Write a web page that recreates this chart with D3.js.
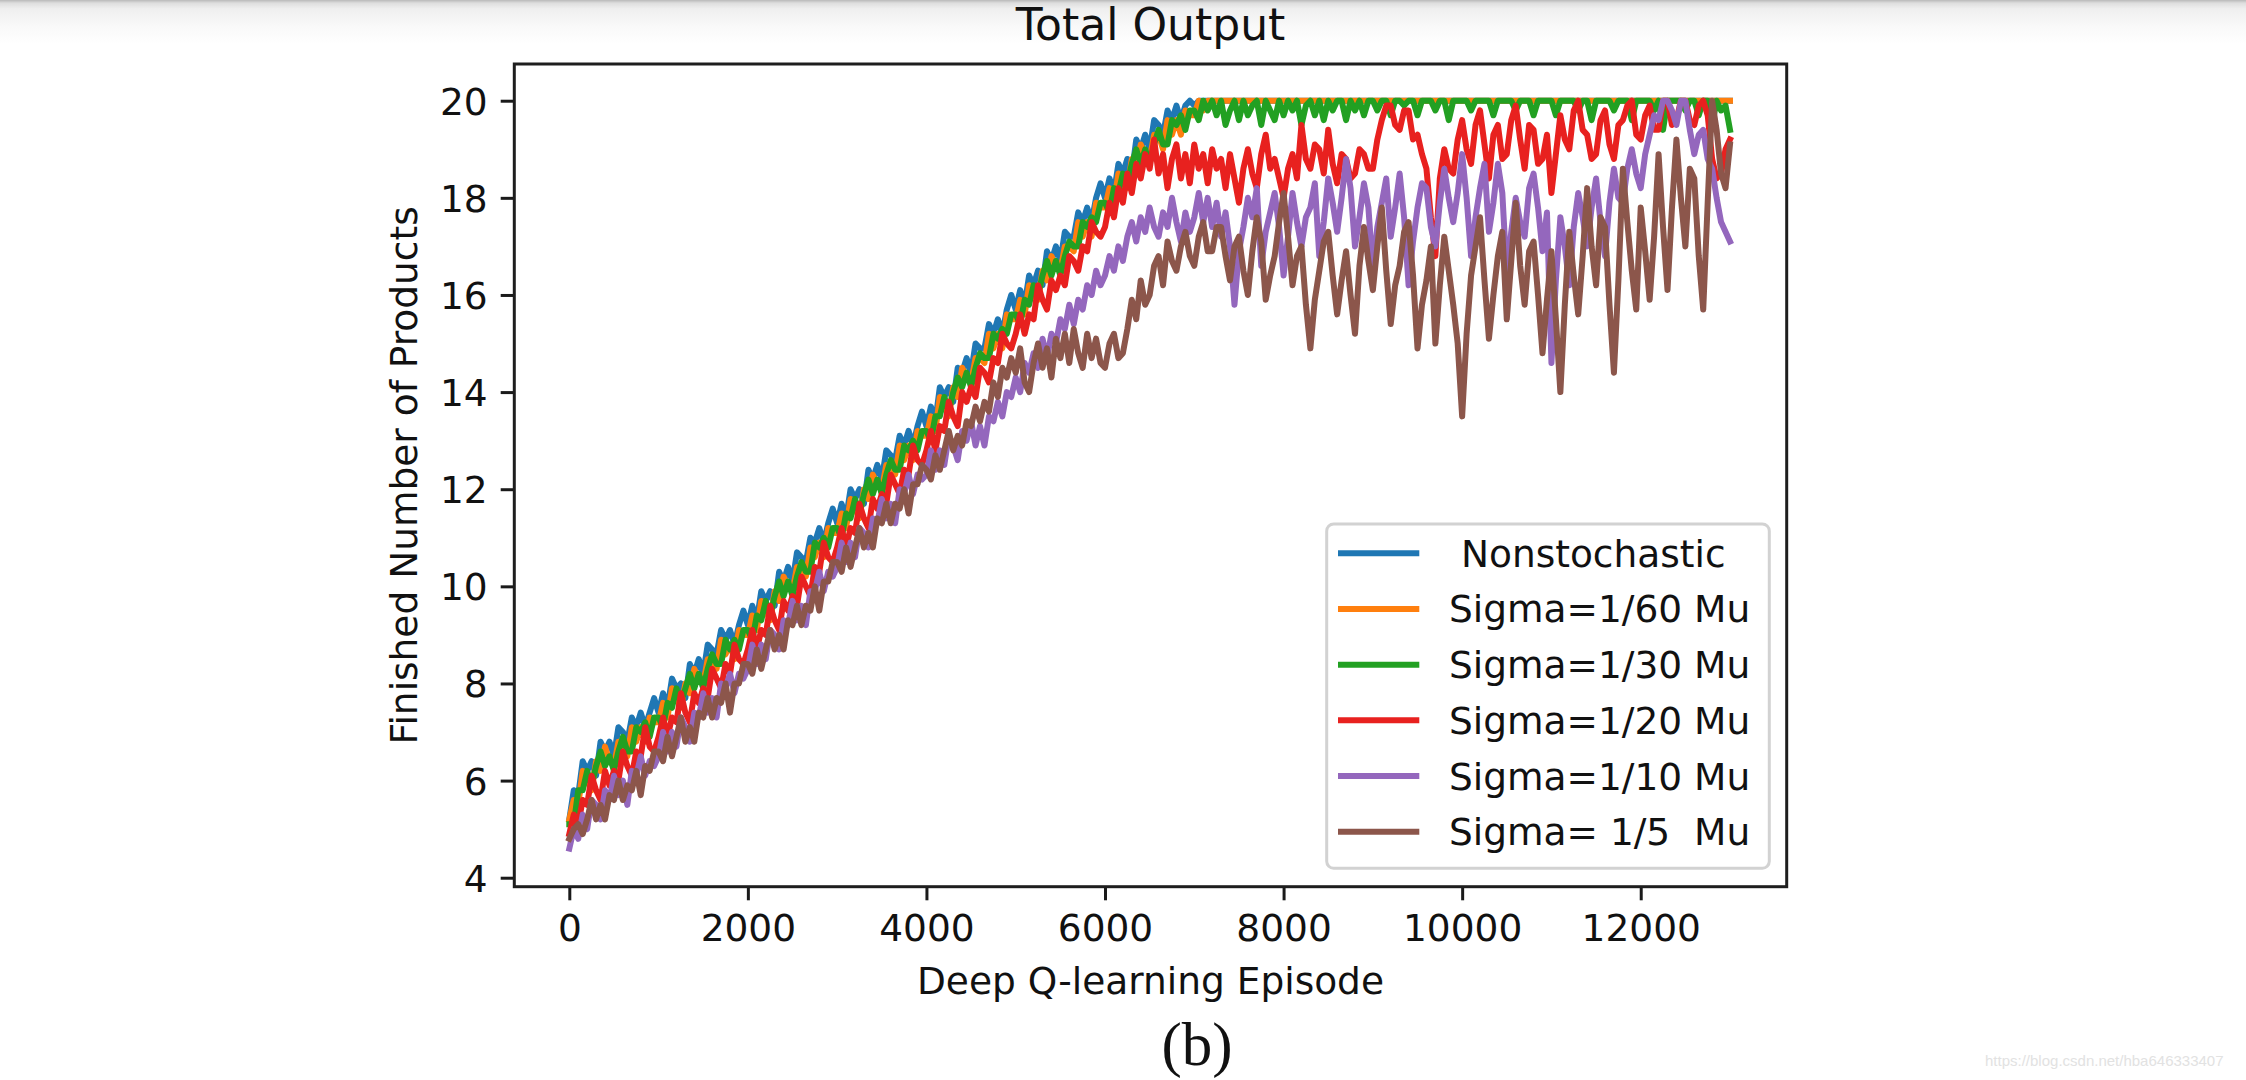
<!DOCTYPE html>
<html><head><meta charset="utf-8">
<script src="https://cdn.jsdelivr.net/npm/d3@7/dist/d3.min.js"></script>
<style>
body{margin:0;background:#fff;overflow:hidden;}
svg text{font-family:"DejaVu Sans";}
</style>
</head><body><svg id="chart" width="2246" height="1080"></svg>
<script>
// ---- data: one value every 50 episodes (episode = index * episodeStep), rows of 1000 episodes ----
const episodeStep = 50;
const nonstochastic = [
 5.2,5.8,5.7,6.4,6.2,6.4,6.1,6.8,6.6,6.8,6.5,7.1,7.0,6.8,7.3,7.1,7.4,7.1,7.4,7.7,
 7.4,7.8,7.5,8.1,7.9,8.0,7.7,8.4,8.2,8.5,8.2,8.8,8.7,8.6,9.1,8.9,9.1,8.8,9.2,9.5,
 9.2,9.6,9.3,9.9,9.7,9.9,9.6,10.3,10.1,10.4,10.1,10.7,10.6,10.5,11.0,10.9,11.2,10.9,11.3,11.6,
 11.3,11.7,11.4,12.0,11.8,12.0,11.7,12.4,12.2,12.5,12.2,12.8,12.7,12.6,13.1,12.9,13.2,12.9,13.3,13.6,
 13.3,13.7,13.4,14.1,13.9,14.1,13.8,14.5,14.4,14.7,14.4,15.0,14.9,14.9,15.4,15.2,15.5,15.2,15.7,16.0,
 15.7,16.1,15.8,16.4,16.2,16.5,16.2,16.9,16.7,17.0,16.7,17.3,17.2,17.2,17.7,17.5,17.8,17.5,18.0,18.3,
 18.0,18.4,18.1,18.7,18.5,18.8,18.5,19.2,19.0,19.3,19.0,19.6,19.5,19.3,19.8,19.6,19.9,19.6,19.9,20,
 19.9,20,20,20,20,20,20,20,20,20,20,20,20,20,20,20,20,20,20,20,
 20,20,20,20,20,20,20,20,20,20,20,20,20,20,20,20,20,20,20,20,
 20,20,20,20,20,20,20,20,20,20,20,20,20,20,20,20,20,20,20,20,
 20,20,20,20,20,20,20,20,20,20,20,20,20,20,20,20,20,20,20,20,
 20,20,20,20,20,20,20,20,20,20,20,20,20,20,20,20,20,20,20,20,
 20,20,20,20,20,20,20,20,20,20,20,20,20,20,20,20,20,20,20,20,
 20];
const sigma60 = [
 5.2,5.6,5.5,6.2,6.0,5.8,6.4,6.2,6.7,6.4,6.3,6.8,6.8,6.5,7.1,6.8,7.1,6.8,7.3,7.2,
 7.2,7.6,7.3,7.9,7.7,7.5,8.0,7.8,8.3,8.1,8.0,8.5,8.5,8.3,8.9,8.6,8.8,8.5,9.1,9.0,
 9.0,9.4,9.1,9.7,9.5,9.3,9.9,9.7,10.2,10.0,9.9,10.4,10.4,10.2,10.8,10.6,10.9,10.6,11.2,11.1,
 11.1,11.5,11.2,11.8,11.6,11.4,12.0,11.8,12.3,12.1,12.0,12.5,12.5,12.3,12.9,12.6,12.9,12.6,13.2,13.1,
 13.1,13.5,13.2,13.9,13.7,13.5,14.1,13.9,14.5,14.3,14.2,14.7,14.7,14.6,15.2,14.9,15.2,14.9,15.6,15.5,
 15.5,15.9,15.6,16.2,16.0,15.9,16.5,16.3,16.8,16.6,16.5,17.0,17.0,16.9,17.5,17.2,17.5,17.2,17.9,17.8,
 17.8,18.2,17.9,18.5,18.3,18.2,18.8,18.6,19.1,18.9,18.8,19.3,19.3,19.0,19.6,19.3,19.6,19.3,19.8,19.7,
 19.7,20,19.8,20,20,20,20,20,20,20,20,20,20,20,20,20,20,20,20,20,
 20,20,20,20,20,20,20,20,20,20,20,20,20,20,20,20,20,20,20,20,
 20,20,20,20,20,20,20,20,20,20,20,20,20,20,20,20,20,20,20,20,
 20,20,20,20,20,20,20,20,20,20,20,20,20,20,20,20,20,20,20,20,
 20,20,20,20,20,20,20,20,20,20,20,20,20,20,20,20,20,20,20,20,
 20,20,20,20,20,20,20,20,20,20,20,20,20,20,20,20,20,20,20,20,
 20];
const sigma30 = [
 5.1,5.1,5.8,5.8,6.2,5.9,6.3,6.6,6.3,6.5,6.2,6.6,6.9,6.6,6.6,7.1,7.0,7.2,6.9,7.3,
 7.3,7.1,7.6,7.5,7.9,7.6,7.9,8.2,7.9,8.2,7.9,8.3,8.6,8.4,8.4,8.9,8.7,8.9,8.7,9.1,
 9.1,8.9,9.4,9.3,9.7,9.4,9.8,10.1,9.8,10.1,9.8,10.2,10.5,10.3,10.3,10.9,10.8,11.0,10.8,11.2,
 11.2,11.0,11.5,11.4,11.8,11.5,11.9,12.2,11.9,12.2,11.9,12.3,12.6,12.4,12.4,12.9,12.8,13.0,12.8,13.2,
 13.2,13.0,13.5,13.5,13.9,13.6,14.0,14.3,14.1,14.4,14.1,14.5,14.8,14.7,14.7,15.2,15.1,15.3,15.2,15.6,
 15.6,15.4,15.9,15.8,16.2,16.0,16.4,16.7,16.4,16.7,16.4,16.8,17.1,17.0,17.0,17.5,17.4,17.6,17.5,17.9,
 17.9,17.7,18.2,18.1,18.5,18.3,18.7,19.0,18.7,19.0,18.7,19.1,19.4,19.1,19.1,19.6,19.5,19.7,19.4,19.8,
 19.8,19.6,20.0,19.8,20.0,19.7,20.0,19.5,19.8,20.0,19.6,20.0,19.7,19.9,20.0,19.5,20.0,19.8,19.6,20.0,
 19.7,20.0,19.8,20.0,19.5,19.9,20.0,19.7,20.0,19.6,20.0,19.8,20.0,20.0,19.6,20.0,19.8,20.0,19.7,20.0,
 20.0,19.8,20.0,20.0,19.7,20.0,20.0,19.9,20.0,20.0,19.7,20.0,20.0,20.0,19.8,20.0,20.0,19.6,20.0,20.0,
 20.0,20.0,19.8,20.0,20.0,20.0,20.0,19.7,20.0,20.0,20.0,20.0,19.8,20.0,20.0,20.0,19.7,20.0,20.0,20.0,
 20.0,19.7,20.0,20.0,20.0,20.0,19.8,20.0,20.0,19.6,20.0,20.0,20.0,20.0,19.8,20.0,20.0,20.0,19.6,20.0,
 20.0,20.0,20.0,19.8,20.0,19.4,20.0,20.0,20.0,20.0,19.8,20.0,20.0,19.7,20.0,20.0,19.5,20.0,19.8,19.9,
 19.4];
const sigma20 = [
 4.9,5.3,5.1,5.6,5.5,6.1,5.8,5.6,6.2,5.9,6.2,6.0,6.6,6.3,6.1,6.6,6.5,7.1,6.7,6.6,
 6.9,7.3,6.9,7.3,7.2,7.8,7.4,7.2,7.8,7.6,7.9,7.7,8.3,8.1,7.9,8.4,8.2,8.8,8.5,8.4,
 8.7,9.1,8.7,9.1,9.0,9.6,9.3,9.1,9.7,9.5,9.8,9.6,10.2,10.0,9.8,10.4,10.3,10.9,10.6,10.5,
 10.8,11.2,10.8,11.2,11.1,11.7,11.4,11.2,11.8,11.6,11.9,11.7,12.3,12.1,11.9,12.4,12.3,12.9,12.6,12.5,
 12.8,13.2,12.8,13.3,13.2,13.8,13.5,13.3,14.0,13.8,14.1,13.9,14.5,14.4,14.2,14.7,14.6,15.2,15.0,14.9,
 15.2,15.6,15.2,15.6,15.5,16.2,15.9,15.7,16.3,16.1,16.4,16.2,16.8,16.7,16.5,17.0,16.9,17.5,17.3,17.2,
 17.4,17.9,17.6,18.2,17.9,18.5,18.1,18.7,18.4,18.9,18.6,19.2,18.5,18.9,18.2,18.8,19.1,18.4,18.9,18.3,
 19.1,18.6,18.9,18.3,19.0,18.6,18.8,18.2,18.9,18.4,17.9,18.6,19.0,18.5,18.2,18.9,19.3,18.6,18.8,18.4,
 18.0,18.6,18.9,18.4,19.5,18.8,18.6,19.1,19.0,18.5,19.4,18.7,18.3,18.9,18.8,18.4,18.5,19.0,18.9,18.6,
 18.6,19.2,19.6,19.9,19.9,19.5,19.4,19.8,19.8,19.2,19.3,18.9,18.6,17.6,16.8,18.4,19.0,18.6,18.5,19.2,
 19.6,19.0,18.7,19.5,19.8,19.1,18.4,19.3,19.5,18.8,18.9,19.6,19.9,19.2,18.6,19.5,19.4,18.7,18.8,19.3,
 18.1,18.9,19.7,19.2,19.0,19.8,20.0,19.4,19.3,18.8,18.9,19.6,19.8,19.1,18.8,19.5,19.6,19.9,20.0,19.3,
 19.2,19.7,19.9,19.4,19.4,20.0,20.0,19.5,19.6,20.0,20.0,19.6,19.5,19.9,20.0,19.7,18.8,18.4,18.5,19.0,
 19.2];
const sigma10 = [
 4.6,5.0,4.8,5.3,5.0,5.6,5.5,5.2,5.8,5.6,6.1,5.7,6.0,5.5,6.2,6.1,6.5,6.1,6.4,6.3,
 6.5,7.0,6.6,7.0,6.7,7.3,7.1,6.8,7.4,7.3,7.8,7.4,7.7,7.3,8.0,7.9,8.2,7.8,8.2,8.1,
 8.3,8.8,8.4,8.8,8.5,9.1,9.0,8.7,9.3,9.2,9.7,9.3,9.6,9.2,9.9,9.9,10.3,9.9,10.3,10.2,
 10.4,10.9,10.5,10.9,10.6,11.2,11.1,10.8,11.4,11.3,11.8,11.4,11.7,11.3,12.0,11.9,12.3,11.9,12.3,12.2,
 12.3,12.8,12.4,12.8,12.5,13.1,12.9,12.6,13.2,13.0,13.4,12.9,13.3,12.9,13.5,13.4,13.8,13.5,14.0,13.9,
 14.3,14.0,14.6,14.4,14.8,14.5,15.1,14.7,15.2,15.0,15.5,15.3,15.8,15.4,15.9,15.7,16.2,16.0,16.5,16.2,
 16.4,16.8,16.5,17.0,16.7,17.2,17.5,17.1,17.6,17.3,17.8,17.4,17.2,17.7,17.4,18.0,17.5,17.1,17.7,17.3,
 17.6,18.1,17.5,18.0,17.4,17.9,17.2,17.7,17.0,15.8,16.9,17.4,18.0,17.6,18.2,16.6,17.3,17.7,18.1,17.4,
 16.4,17.2,18.1,17.5,17.0,17.6,17.8,18.3,16.8,17.5,18.4,17.9,17.3,18.0,18.8,18.2,17.0,17.6,18.3,17.8,
 16.5,17.4,17.9,18.4,17.2,17.8,18.5,17.6,16.2,17.1,17.8,18.3,18.2,17.4,17.0,17.9,18.6,18.0,17.5,18.1,
 18.9,18.0,16.8,17.6,18.2,18.7,17.3,17.9,18.7,18.1,16.4,17.3,18.0,17.5,17.2,18.2,18.5,17.8,16.9,17.7,
 14.6,16.3,17.6,17.0,16.2,17.4,18.1,17.6,17.0,17.8,18.4,17.5,16.8,17.9,18.6,18.0,17.9,18.6,19.0,18.5,
 18.2,18.9,19.3,19.7,19.6,20.0,20.0,19.8,19.5,20.0,20.0,19.4,18.9,19.3,19.4,18.8,18.6,18.0,17.5,17.3,
 17.1];
const sigma5 = [
 4.8,5.0,5.1,4.9,5.2,5.6,5.2,5.5,5.2,5.7,5.6,6.0,5.6,5.9,5.8,6.2,5.7,6.3,6.2,6.6,
 6.6,6.4,6.9,6.5,6.9,7.3,6.8,7.1,6.8,7.4,7.3,7.7,7.3,7.7,7.6,8.0,7.4,8.0,8.0,8.4,
 8.4,8.2,8.7,8.3,8.7,9.1,8.7,9.0,8.7,9.3,9.2,9.6,9.2,9.6,9.5,10.0,9.5,10.1,10.1,10.5,
 10.5,10.3,10.8,10.4,10.8,11.2,10.8,11.1,10.8,11.4,11.3,11.7,11.3,11.7,11.6,12.0,11.5,12.1,12.1,12.5,
 12.4,12.2,12.7,12.4,12.8,13.2,12.8,13.1,12.9,13.4,13.3,13.7,13.4,13.8,13.6,14.2,13.9,14.5,14.3,14.7,
 14.4,14.9,14.2,14.0,14.6,15.0,14.5,14.9,14.3,15.1,14.7,15.2,14.6,15.3,14.8,14.5,15.2,14.7,15.1,14.6,
 14.5,15.0,15.2,14.7,14.8,15.3,15.9,15.5,16.3,15.8,16.0,16.6,16.8,16.2,17.1,16.7,16.5,17.0,17.3,16.8,
 16.6,17.2,17.5,16.9,16.9,17.4,17.4,16.8,16.3,17.0,17.2,16.5,16.0,16.9,17.6,17.1,15.9,16.4,16.8,17.5,
 18.1,17.2,16.2,16.8,17.0,15.8,14.9,15.9,16.5,17.1,17.3,16.4,15.6,16.3,16.9,16.0,15.2,16.6,17.4,16.7,
 16.1,17.0,17.8,16.5,15.4,16.2,16.6,17.3,17.5,16.4,14.9,15.8,16.3,17.0,15.0,16.2,17.2,16.5,15.8,15.0,
 13.5,15.2,16.4,17.0,17.6,16.3,15.1,16.0,16.8,17.3,15.5,16.7,17.9,16.6,15.8,16.9,17.1,16.0,14.8,15.9,
 16.9,15.5,14.0,15.8,17.3,16.4,15.6,16.8,18.2,17.0,16.2,17.6,17.4,15.8,14.4,16.3,18.6,17.5,16.5,15.7,
 17.8,16.9,15.9,17.2,18.9,17.4,16.1,17.8,19.2,18.0,17.0,18.6,18.4,16.8,15.7,17.9,20.0,19.4,18.5,18.2,
 19.1];

const seriesNames  = [" Nonstochastic", "Sigma=1/60 Mu", "Sigma=1/30 Mu", "Sigma=1/20 Mu", "Sigma=1/10 Mu", "Sigma= 1/5  Mu"];
const seriesColors = ["#1f77b4", "#ff7f0e", "#22a022", "#e8211f", "#9467bd", "#8c564b"];
const xTicks = [0, 2000, 4000, 6000, 8000, 10000, 12000];
const yTicks = [4, 6, 8, 10, 12, 14, 16, 18, 20];
const titleText = "Total Output";
const xLabelText = "Deep Q-learning Episode";
const yLabelText = "Finished Number of Products";
const captionText = "(b)";
const watermarkText = "https://blog.csdn.net/hba646333407";

// ---- layout ----
const svg = d3.select("#chart");
const W = 2246, H = 1080;
const plot = {left: 514.3, right: 1786.7, top: 64, bottom: 886.7};
const FS = 37.5;

const defs = svg.append("defs");
const grad = defs.append("linearGradient").attr("id", "topfade").attr("x1", 0).attr("y1", 0).attr("x2", 0).attr("y2", 1);
[[0, "#b9b9b9"], [0.07, "#dedede"], [0.2, "#efefef"], [0.6, "#f9f9f9"], [1, "#ffffff"]].forEach(s =>
  grad.append("stop").attr("offset", s[0]).attr("stop-color", s[1]));
defs.append("clipPath").attr("id", "plotclip").append("rect")
  .attr("x", plot.left).attr("y", plot.top)
  .attr("width", plot.right - plot.left).attr("height", plot.bottom - plot.top);

svg.append("rect").attr("width", W).attr("height", H).attr("fill", "#fff");
svg.append("rect").attr("width", W).attr("height", 44).attr("fill", "url(#topfade)");

const x = d3.scaleLinear().domain([-616, 13635]).range([plot.left, plot.right]);
const y = d3.scaleLinear().domain([3.815, 20.756]).range([plot.bottom, plot.top]);

// data lines
const allSeries = [nonstochastic, sigma60, sigma30, sigma20, sigma10, sigma5];
const line = d3.line().x((d, i) => x(i * episodeStep)).y(d => y(d));
const gLines = svg.append("g").attr("clip-path", "url(#plotclip)");
allSeries.forEach((s, k) => {
  gLines.append("path").datum(s).attr("d", line)
    .attr("fill", "none").attr("stroke", seriesColors[k])
    .attr("stroke-width", 6).attr("stroke-linejoin", "round").attr("stroke-linecap", "square");
});

// axes
const xAxis = d3.axisBottom(x).tickValues(xTicks).tickFormat(d3.format("d")).tickSize(13.6).tickPadding(14);
const gx = svg.append("g").attr("transform", `translate(0,${plot.bottom})`).call(xAxis);
const yAxis = d3.axisLeft(y).tickValues(yTicks).tickFormat(d3.format("d")).tickSize(13.6).tickPadding(13);
const gy = svg.append("g").attr("transform", `translate(${plot.left},0)`).call(yAxis);
[gx, gy].forEach(g => {
  g.select(".domain").remove();
  g.selectAll(".tick line").attr("stroke", "#1a1a1a").attr("stroke-width", 3);
  g.selectAll(".tick text").attr("fill", "#111").style("font-size", FS + "px").style("font-family", "DejaVu Sans");
});
gy.selectAll(".tick text").attr("dy", "0.36em");

// frame
svg.append("rect").attr("x", plot.left).attr("y", plot.top)
  .attr("width", plot.right - plot.left).attr("height", plot.bottom - plot.top)
  .attr("fill", "none").attr("stroke", "#1e1e1e").attr("stroke-width", 3);

// title and labels
const cx = (plot.left + plot.right) / 2;
svg.append("text").attr("x", cx).attr("y", 40).attr("text-anchor", "middle")
  .style("font-size", "44px").attr("fill", "#111").text(titleText);
svg.append("text").attr("x", cx).attr("y", 994).attr("text-anchor", "middle")
  .style("font-size", FS + "px").attr("fill", "#111").text(xLabelText);
svg.append("text").attr("transform", `translate(417,${(plot.top + plot.bottom) / 2}) rotate(-90)`)
  .attr("text-anchor", "middle").style("font-size", FS + "px").attr("fill", "#111").text(yLabelText);
svg.append("text").attr("x", 1197).attr("y", 1065).attr("text-anchor", "middle")
  .style("font-family", "Liberation Serif").style("font-size", "61px").attr("fill", "#111").text(captionText);
svg.append("text").attr("x", 1985).attr("y", 1066)
  .style("font-family", "Liberation Sans").style("font-size", "15px").attr("fill", "#e2e2e2").text(watermarkText);

// legend
const lg = {left: 1326.7, top: 524, right: 1769.3, bottom: 868.3};
svg.append("rect").attr("x", lg.left).attr("y", lg.top)
  .attr("width", lg.right - lg.left).attr("height", lg.bottom - lg.top)
  .attr("rx", 7).attr("ry", 7).attr("fill", "#fff").attr("fill-opacity", 0.8)
  .attr("stroke", "#d2d2d2").attr("stroke-width", 3);
const rowY = d3.scaleLinear().domain([0, 5]).range([553.3, 831.7]);
seriesNames.forEach((name, k) => {
  const yy = rowY(k);
  svg.append("line").attr("x1", 1338).attr("x2", 1419.3).attr("y1", yy).attr("y2", yy)
    .attr("stroke", seriesColors[k]).attr("stroke-width", 6);
  svg.append("text").attr("x", 1449).attr("y", yy).attr("dy", "0.36em")
    .style("font-size", FS + "px").style("white-space", "pre").attr("xml:space", "preserve")
    .attr("fill", "#111").text(name);
});
</script>
</body></html>
